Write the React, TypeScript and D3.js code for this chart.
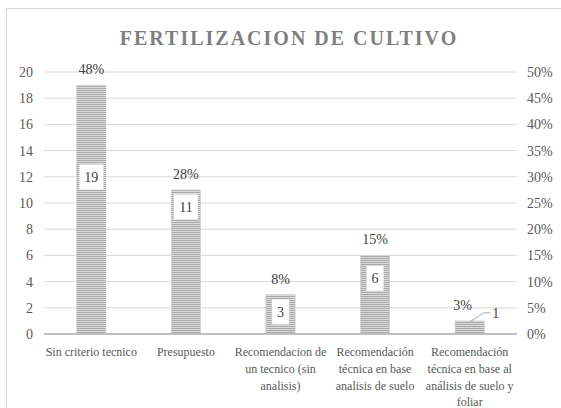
import React from "react";
import * as d3 from "d3";

const categories: string[][] = [
  ["Sin criterio tecnico"],
  ["Presupuesto"],
  ["Recomendacion de", "un tecnico (sin", "analisis)"],
  ["Recomendación", "técnica en base", "analisis de suelo"],
  ["Recomendación", "técnica en base al", "análisis de suelo y", "foliar"],
];
const counts = [19, 11, 3, 6, 1];
const shares = [0.475, 0.275, 0.075, 0.15, 0.025];
const shareLabels = ["48%", "28%", "8%", "15%", "3%"];
const leftTicks = [0, 2, 4, 6, 8, 10, 12, 14, 16, 18, 20];
const rightTicks = [0, 0.05, 0.1, 0.15, 0.2, 0.25, 0.3, 0.35, 0.4, 0.45, 0.5];
const countLabelMode = ["inside", "inside", "inside", "inside", "leader"];
const countLabelDy = [92, 17, 17, 23, 0];

const W = 561;
const H = 408;
const left = 44;
const right = 517;
const top = 72;
const bottom = 334;
const SERIF = "Liberation Serif";

export default function App() {
  const x = d3
    .scaleBand<number>()
    .domain(counts.map((_, i) => i))
    .range([left, right])
    .paddingInner(0.69)
    .paddingOuter(0.345);
  const y = d3.scaleLinear().domain([0, 20]).range([bottom, top]);
  const y2 = d3.scaleLinear().domain([0, 0.5]).range([bottom, top]);
  const pct = d3.format(".0%");
  const step = (right - left) / counts.length;

  return (
    <svg width={W} height={H} style={{ position: "absolute", left: 0, top: 0 }}>
      <defs>
        <pattern id="stripes" width="4" height="2" patternUnits="userSpaceOnUse">
          <rect width="4" height="2" fill="#dadada" />
          <rect width="4" height="1" fill="#a9a9a9" />
        </pattern>
      </defs>
      <rect x={6.5} y={8.5} width={570} height={420} fill="#fff" stroke="#d9d9d9" />
      <text
        x={289}
        y={45}
        textAnchor="middle"
        fontSize={20}
        fontWeight="bold"
        fill="#7f7f7f"
        letterSpacing={2}
        style={{ fontFamily: SERIF }}
      >
        FERTILIZACION DE CULTIVO
      </text>
      {leftTicks.map((t) =>
        t === 0 ? null : (
          <line key={"g" + t} x1={left} x2={right} y1={y(t)} y2={y(t)} stroke="#d9d9d9" strokeWidth={1} />
        )
      )}
      {leftTicks.map((t) => (
        <text key={"l" + t} x={33} y={y(t) + 5} textAnchor="end" fontSize={14} fill="#595959" style={{ fontFamily: SERIF }}>
          {t}
        </text>
      ))}
      {rightTicks.map((t) => (
        <text key={"r" + t} x={527} y={y2(t) + 5} textAnchor="start" fontSize={14} fill="#595959" style={{ fontFamily: SERIF }}>
          {pct(t)}
        </text>
      ))}
      {counts.map((v, i) => (
        <rect
          key={"b" + i}
          x={x(i)}
          y={y(v)}
          width={x.bandwidth()}
          height={bottom - y(v)}
          fill="url(#stripes)"
          stroke="#d0d0d0"
          strokeWidth={0.6}
        />
      ))}
      <line x1={left} x2={right} y1={bottom} y2={bottom} stroke="#bfbfbf" strokeWidth={2} />
      {shares.map((s, i) => (
        <text
          key={"p" + i}
          x={(x(i) as number) + x.bandwidth() / 2 - (i === 4 ? 7 : 0)}
          y={y2(s) - 11}
          textAnchor="middle"
          fontSize={14}
          fill="#404040"
          style={{ fontFamily: SERIF }}
        >
          {shareLabels[i]}
        </text>
      ))}
      {counts.map((v, i) => {
        const cx = (x(i) as number) + x.bandwidth() / 2;
        const label = String(v);
        if (countLabelMode[i] === "leader") {
          const y0 = y(v);
          return (
            <g key={"c" + i}>
              <polyline
                points={`${cx},${y0 + 1} ${cx + 14},${y0 - 8} ${cx + 21},${y0 - 8}`}
                fill="none"
                stroke="#a6a6a6"
                strokeWidth={1}
              />
              <text x={cx + 26} y={y0 - 3} textAnchor="middle" fontSize={14} fill="#404040" style={{ fontFamily: SERIF }}>
                {label}
              </text>
            </g>
          );
        }
        const cy = y(v) + countLabelDy[i];
        const bw = label.length * 7 + 10;
        return (
          <g key={"c" + i}>
            <rect x={cx - bw / 2} y={cy - 12.5} width={bw} height={25} fill="#fff" stroke="#e6e6e6" strokeWidth={0.5} />
            <text x={cx} y={cy + 5} textAnchor="middle" fontSize={14} fill="#404040" style={{ fontFamily: SERIF }}>
              {label}
            </text>
          </g>
        );
      })}
      {categories.map((lines, i) => (
        <text
          key={"x" + i}
          textAnchor="middle"
          fontSize={12}
          fill="#595959"
          style={{ fontFamily: SERIF }}
        >
          {lines.map((ln, j) => (
            <tspan key={j} x={left + step * (i + 0.5)} y={356 + j * 16.8}>
              {ln}
            </tspan>
          ))}
        </text>
      ))}
    </svg>
  );
}
